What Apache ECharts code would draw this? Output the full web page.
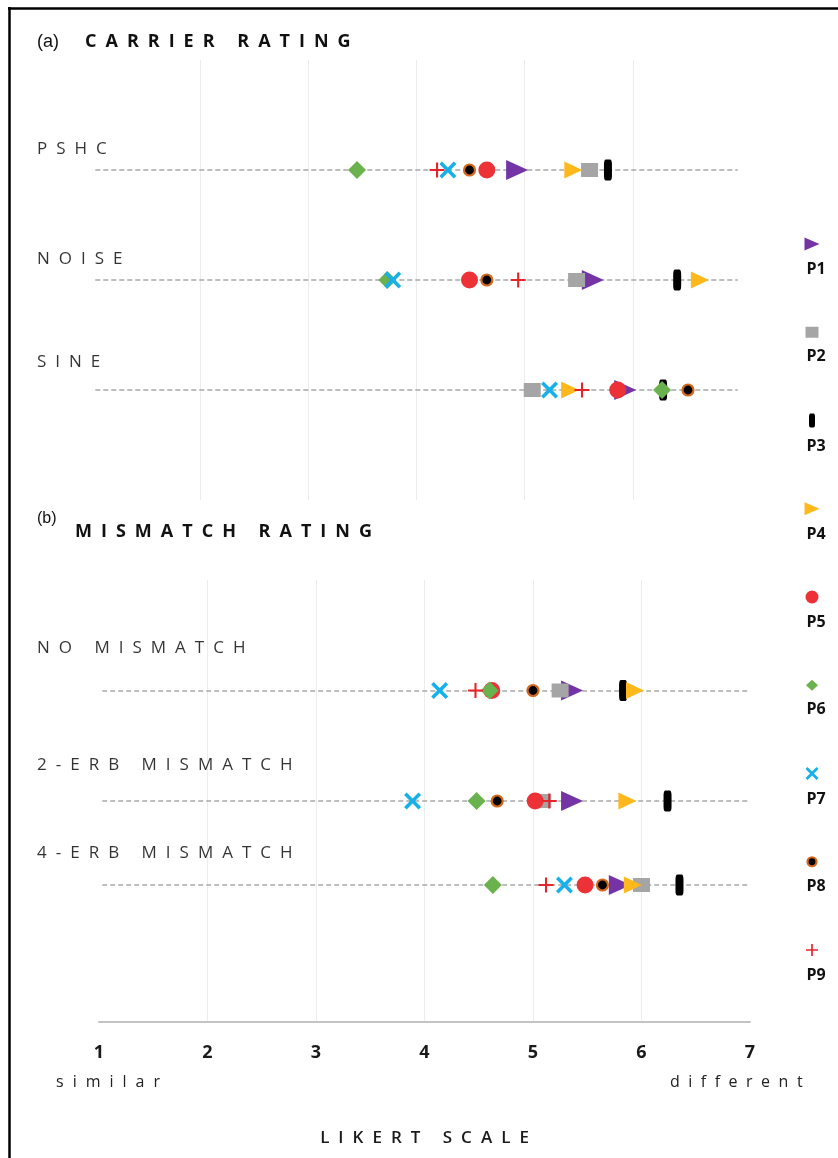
<!DOCTYPE html>
<html><head><meta charset="utf-8">
<script src="https://cdn.jsdelivr.net/npm/echarts@6/dist/echarts.min.js"></script>
<style>html,body{margin:0;padding:0;background:#fff}#chart{width:838px;height:1158px}</style>
</head><body><div id="chart"></div>
<script>
// ---------------- DATA ----------------
const participants = ['P1', 'P2', 'P3', 'P4', 'P5', 'P6', 'P7', 'P8', 'P9'];
const carrierRows = ['PSHC', 'NOISE', 'SINE'];
const mismatchRows = ['NO MISMATCH', '2-ERB MISMATCH', '4-ERB MISMATCH'];
const tickLabels = ['1', '2', '3', '4', '5', '6', '7'];
// ratings per participant, order P1..P9
const pshc       = [4.93, 5.60, 5.77, 5.45, 4.65, 3.45, 4.29, 4.49, 4.19];
const noise      = [5.63, 5.48, 6.41, 6.62, 4.49, 3.73, 3.78, 4.65, 4.94];
const sine       = [5.93, 5.07, 6.28, 5.42, 5.86, 6.27, 5.23, 6.51, 5.53];
const noMismatch = [5.36, 5.25, 5.83, 5.94, 4.62, 4.60, 4.14, 5.00, 4.47];
const erb2       = [5.36, 5.09, 6.24, 5.87, 5.02, 4.48, 3.89, 4.67, 5.15];
const erb4       = [5.80, 6.00, 6.35, 5.92, 5.48, 4.63, 5.29, 5.64, 5.12];

// ---------------- LAYOUT / STYLE ----------------
const carrierData = [pshc, noise, sine];
const mismatchData = [noMismatch, erb2, erb4];
const carrierY = [1, 2, 3];
const mismatchY = [1, 2, 2.76];
const carrierLabelDy = [-21, -21, -28];
const mismatchLabelDy = [-42, -36, -32];

const SPACING = {
  'CARRIER RATING': 9, 'MISMATCH RATING': 9,
  'PSHC': 9, 'NOISE': 9, 'SINE': 9,
  'NO MISMATCH': 9, '2-ERB MISMATCH': 9, '4-ERB MISMATCH': 9,
  'similar': 9, 'different': 8.5, 'LIKERT SCALE': 9
};
(function () {
  const P = CanvasRenderingContext2D.prototype;
  const orig = P.fillText;
  const has = 'letterSpacing' in P;
  function setSp(ctx, v) {
    const f = ctx.font;
    ctx.letterSpacing = v;
    ctx.font = '10px sans-serif';
    ctx.font = f;
  }
  P.fillText = function (t, x, y, w) {
    const sp = SPACING[t];
    if (has) {
      if (sp) {
        setSp(this, sp + 'px');
        let dx = 0;
        if (this.textAlign === 'center') dx = sp / 2;
        else if (this.textAlign === 'right' || this.textAlign === 'end') dx = sp;
        const r = w === undefined ? orig.call(this, t, x + dx, y) : orig.call(this, t, x + dx, y, w);
        setSp(this, '0px');
        return r;
      } else if (this.letterSpacing && this.letterSpacing !== '0px') {
        setSp(this, '0px');
      }
    }
    return w === undefined ? orig.call(this, t, x, y) : orig.call(this, t, x, y, w);
  };
})();

const XPATH = 'path://M0,1.5 L1.5,0 L5,3.5 L8.5,0 L10,1.5 L6.5,5 L10,8.5 L8.5,10 L5,6.5 L1.5,10 L0,8.5 L3.5,5 Z';
const PLUSPATH = 'path://M4.3,0 L5.7,0 L5.7,4.3 L10,4.3 L10,5.7 L5.7,5.7 L5.7,10 L4.3,10 L4.3,5.7 L0,5.7 L0,4.3 L4.3,4.3 Z';
const styles = [
  { symbol: 'triangle', size: [20, 22], lsize: [13, 15], rotate: -90, color: '#7434A6' },
  { symbol: 'rect', size: [17, 14], lsize: [13, 11], rotate: 0, color: '#A5A5A5' },
  { symbol: 'roundRect', size: [8, 21], lsize: [6, 14], rotate: 0, color: '#000000' },
  { symbol: 'triangle', size: [17, 18], lsize: [13, 15], rotate: -90, color: '#FFB81C' },
  { symbol: 'circle', size: 17, lsize: 13, rotate: 0, color: '#EC3237' },
  { symbol: 'diamond', size: [18, 18], lsize: [12, 11], rotate: 0, color: '#6AB24E' },
  { symbol: XPATH, size: 17, lsize: 13, rotate: 0, color: '#17B0E8' },
  { symbol: 'circle', size: 11, lsize: 9, rotate: 0, color: '#000000', border: '#D2691E' },
  { symbol: PLUSPATH, size: 15, lsize: 12, rotate: 0, color: '#E4262B' }
];
const zRank = [0, 2, 1, 3, 4, 5, 8, 6, 7];

const FONT = 'Open Sans';
const series = [];
participants.forEach((p, i) => {
  const st = styles[i];
  const common = {
    type: 'scatter', name: p, symbol: st.symbol, symbolRotate: st.rotate,
    z: 3 + zRank[i], silent: true,
    itemStyle: st.border ? { color: st.color, borderColor: st.border, borderWidth: 2.2, opacity: 1 } : { color: st.color, opacity: 1 }
  };
  series.push(Object.assign({}, common, {
    xAxisIndex: 0, yAxisIndex: 0, symbolSize: st.size,
    data: carrierData.map((arr, k) => [arr[i], carrierY[k]])
  }));
  series.push(Object.assign({}, common, {
    xAxisIndex: 1, yAxisIndex: 1, symbolSize: st.size,
    data: mismatchData.map((arr, k) => [arr[i], mismatchY[k]])
  }));
  series.push(Object.assign({}, common, {
    xAxisIndex: 2, yAxisIndex: 2, symbolSize: st.lsize,
    data: [[0, i]],
    label: { show: true, position: 'bottom', distance: 11, offset: [4, 0], formatter: '{a}',
      fontFamily: FONT, fontWeight: 'bold', fontSize: 16, color: '#111' }
  }));
});

function rowSeries(rows, ys, dys, xi, dx, x0, x1) {
  return {
    type: 'scatter', xAxisIndex: xi, yAxisIndex: xi, symbolSize: 1, silent: true, z: 1,
    itemStyle: { color: 'rgba(0,0,0,0)' },
    data: rows.map((r, k) => ({
      name: r, value: [1, ys[k]],
      label: { show: true, position: 'inside', align: 'left', verticalAlign: 'middle',
        offset: [dx, dys[k]], formatter: '{b}', fontFamily: FONT, fontSize: 17, color: '#000' }
    })),
    markLine: {
      silent: true, symbol: 'none', label: { show: false }, animation: false, z: 1,
      lineStyle: { color: '#A8A8A8', type: [5, 3], width: 1.5 },
      data: rows.map((r, k) => [{ coord: [x0, ys[k]] }, { coord: [x1, ys[k]] }])
    }
  };
}
series.push(rowSeries(carrierRows, carrierY, carrierLabelDy, 0, -55, 1.03, 6.97));
series.push(rowSeries(mismatchRows, mismatchY, mismatchLabelDy, 1, -62, 1.03, 6.99));

const gridSplit = { show: true, showMinLine: false, showMaxLine: false, lineStyle: { color: '#ECECEC', width: 1 } };

const option = {
  animation: false,
  backgroundColor: '#fff',
  grid: [
    { left: 92, right: 97, top: 60, height: 440 },
    { left: 99, right: 88, top: 580, height: 442 },
    { left: 800, right: 14, top: 244, height: 706 }
  ],
  xAxis: [
    { gridIndex: 0, type: 'value', min: 1, max: 7, interval: 1, axisLine: { show: false },
      axisTick: { show: false }, axisLabel: { show: false }, splitLine: gridSplit },
    { gridIndex: 1, type: 'value', min: 1, max: 7, interval: 1, position: 'bottom',
      axisLine: { show: true, onZero: false, lineStyle: { color: '#C4C4C4', width: 2 } },
      axisTick: { show: false }, splitLine: gridSplit,
      axisLabel: { margin: 22, fontFamily: FONT, fontWeight: 'bold', fontSize: 18, color: '#1a1a1a',
        formatter: v => tickLabels[Math.round(v) - 1] },
      name: 'LIKERT SCALE', nameLocation: 'middle', nameGap: 108,
      nameTextStyle: { fontFamily: FONT, fontWeight: 600, fontSize: 17, color: '#1a1a1a' } },
    { gridIndex: 2, type: 'value', min: -1, max: 1, show: false }
  ],
  yAxis: [
    { gridIndex: 0, type: 'value', min: 0, max: 4, inverse: true, show: false },
    { gridIndex: 1, type: 'value', min: 0, max: 4, inverse: true, show: false },
    { gridIndex: 2, type: 'value', min: 0, max: 8, inverse: true, show: false }
  ],
  graphic: [
    { type: 'line', shape: { x1: 9.5, y1: 7, x2: 9.5, y2: 1158 }, style: { stroke: '#000', lineWidth: 2.5 } },
    { type: 'line', shape: { x1: 8, y1: 8.5, x2: 838, y2: 8.5 }, style: { stroke: '#000', lineWidth: 2.5 } },
    { type: 'text', left: 37, top: 33, style: { text: '(a)', font: '18px "Liberation Sans"', fill: '#111' } },
    { type: 'text', left: 85, top: 33, style: { text: 'CARRIER RATING', font: 'bold 18px "Open Sans"', fill: '#111' } },
    { type: 'text', left: 37, top: 511, style: { text: '(b)', font: '16px "Liberation Sans"', fill: '#111' } },
    { type: 'text', left: 75, top: 523, style: { text: 'MISMATCH RATING', font: 'bold 18px "Open Sans"', fill: '#111' } },
    { type: 'text', left: 56, top: 1074, style: { text: 'similar', font: '16px "Open Sans"', fill: '#222' } },
    { type: 'text', left: 670, top: 1074, style: { text: 'different', font: '16px "Open Sans"', fill: '#222' } }
  ],
  series: series
};
const chart = echarts.init(document.getElementById('chart'), null, { renderer: 'canvas' });
chart.setOption(option);
</script>
</body></html>
